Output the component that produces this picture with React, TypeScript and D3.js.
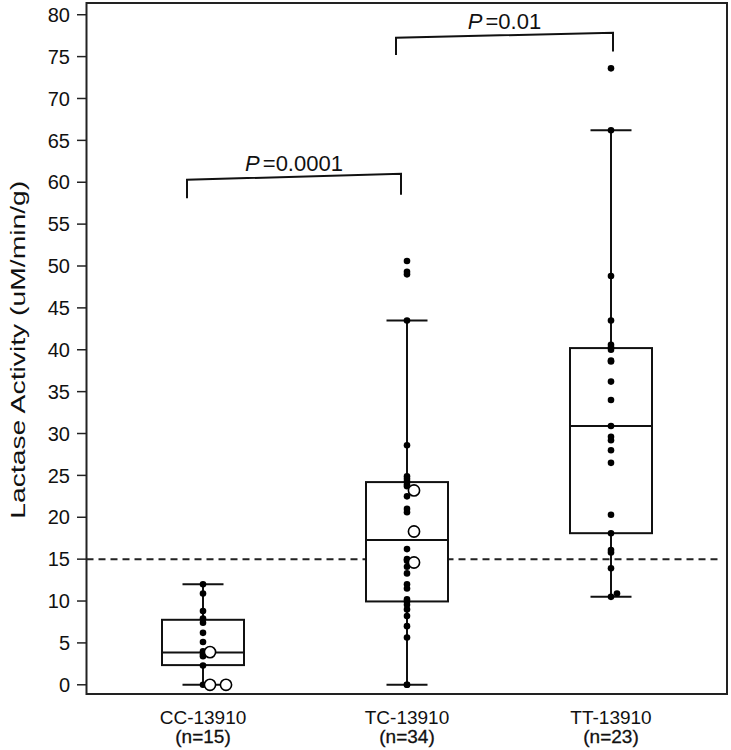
import React from "react";
import * as d3 from "d3";

// ---- data ----
const categories = ["CC-13910", "TC-13910", "TT-13910"];
const sampleSizes = ["(n=15)", "(n=34)", "(n=23)"];

// box statistics: [whiskerLow, q1, median, q3, whiskerHigh]
const boxStats = [
  [0, 2.35, 3.86, 7.76, 12.0],
  [0, 9.95, 17.3, 24.2, 43.5],
  [10.5, 18.1, 30.9, 40.2, 66.2],
];

// filled (individual) points per group
const ccFilled = [12.0, 10.9, 8.8, 7.9, 7.4, 6.2, 5.1, 4.0, 3.6, 3.4, 2.3, 0];
const tcFilled = [50.6, 49.3, 49.0, 43.5, 28.6, 24.9, 24.6, 24.3, 23.9, 23.7, 22.5, 21.0, 20.6, 16.2, 15.0, 14.8, 14.1, 13.3, 12.0, 11.5, 10.2, 9.95, 9.55, 9.0, 8.2, 7.0, 5.65, 0, 0];
const ttFilled = [73.6, 66.2, 48.8, 43.5, 40.6, 40.3, 40.0, 38.7, 38.6, 36.2, 34.0, 30.9, 29.6, 29.2, 28.0, 26.5, 20.3, 18.1, 16.1, 15.8, 13.9, 10.9, 10.5];
// horizontal jitter (px) of filled points, same order as above
const ccJitter = ccFilled.map(() => 0);
const tcJitter = tcFilled.map(() => 0);
const ttJitter = ttFilled.map((v) => (v === 10.9 ? 6 : 0));

// open circles per group
const ccOpen = [3.9, 0, 0];
const tcOpen = [23.2, 18.3, 14.6];
const ttOpen: number[] = [];

const filled = [ccFilled, tcFilled, ttFilled];
const jitters = [ccJitter, tcJitter, ttJitter];
const opens = [ccOpen, tcOpen, ttOpen];

const thresholdValue = 15;
const yTicks = d3.range(0, 81, 5);

// significance brackets
const brackets = [
  { from: 0, to: 1, label: "0.0001", yLeft: 60.3, yRight: 61.0, legLeft: 58.1, legRight: 58.5, dxL: -16, dxR: -6 },
  { from: 1, to: 2, label: "0.01", yLeft: 77.25, yRight: 77.85, legLeft: 75.2, legRight: 75.6, dxL: -11, dxR: 2 },
];

// ---- layout ----
const W = 731;
const H = 750;
const frame = { left: 86.5, right: 727, top: 3, bottom: 694 };
const FONT = "'Liberation Sans', Arial, Helvetica, sans-serif";

export default function App() {
  const y = d3.scaleLinear().domain([-1.1, 81.4]).range([frame.bottom, frame.top]);
  const x = d3.scalePoint<string>().domain(categories).range([203, 611]);
  const boxW = 82;
  const capW = 41;

  return (
    <svg
      width={W}
      height={H}
      style={{ position: "absolute", left: 0, top: 0, background: "#fff" }}
      fontFamily={FONT}
    >
      <rect x={0} y={0} width={W} height={H} fill="#fff" />
      {/* threshold dashed line */}
      <line
        x1={frame.left}
        x2={frame.right - 5}
        y1={y(thresholdValue)}
        y2={y(thresholdValue)}
        stroke="#222"
        strokeWidth={2}
        strokeDasharray="7,5"
      />

      {/* boxes */}
      {categories.map((c, i) => {
        const cx = x(c)!;
        const [lo, q1, med, q3, hi] = boxStats[i];
        return (
          <g key={c} stroke="#111" strokeWidth={2} fill="none">
            <line x1={cx} x2={cx} y1={y(hi)} y2={y(lo)} />
            <line x1={cx - capW / 2} x2={cx + capW / 2} y1={y(hi)} y2={y(hi)} />
            <line x1={cx - capW / 2} x2={cx + capW / 2} y1={y(lo)} y2={y(lo)} />
            <rect x={cx - boxW / 2} y={y(q3)} width={boxW} height={y(q1) - y(q3)} fill="#fff" />
            <line x1={cx - boxW / 2} x2={cx + boxW / 2} y1={y(med)} y2={y(med)} />
          </g>
        );
      })}

      {/* points */}
      {categories.map((c, i) => {
        const cx = x(c)!;
        const seen: Record<string, number> = {};
        return (
          <g key={"p" + c}>
            {filled[i].map((v, j) => (
              <circle key={"f" + j} cx={cx + jitters[i][j]} cy={y(v)} r={3.3} fill="#000" />
            ))}
            {opens[i].map((v, j) => {
              const k = String(v);
              const n = seen[k] || 0;
              seen[k] = n + 1;
              return (
                <circle
                  key={"o" + j}
                  cx={cx + 7 + 16 * n}
                  cy={y(v)}
                  r={5.6}
                  fill="#fff"
                  stroke="#000"
                  strokeWidth={1.6}
                />
              );
            })}
          </g>
        );
      })}

      {/* brackets */}
      {brackets.map((b, i) => {
        const x1 = x(categories[b.from])! + b.dxL;
        const x2 = x(categories[b.to])! + b.dxR;
        const path = `M${x1},${y(b.legLeft)}L${x1},${y(b.yLeft)}L${x2},${y(b.yRight)}L${x2},${y(b.legRight)}`;
        const tx = (x1 + x2) / 2;
        const ty = (y(b.yLeft) + y(b.yRight)) / 2 - 6;
        return (
          <g key={"b" + i}>
            <path d={path} fill="none" stroke="#111" strokeWidth={2} />
            <text x={tx} y={ty} textAnchor="middle" fontSize={22} fill="#111">
              <tspan fontStyle="italic">P</tspan>
              <tspan dx={3}>={b.label}</tspan>
            </text>
          </g>
        );
      })}

      {/* frame */}
      <rect
        x={frame.left}
        y={frame.top}
        width={frame.right - frame.left}
        height={frame.bottom - frame.top}
        fill="none"
        stroke="#222"
        strokeWidth={2}
      />

      {/* y axis ticks */}
      {yTicks.map((t) => (
        <g key={"t" + t}>
          <line x1={77} x2={frame.left} y1={y(t)} y2={y(t)} stroke="#222" strokeWidth={1.5} />
          <text x={70} y={y(t)} dy="0.36em" textAnchor="end" fontSize={20} fill="#111">
            {t}
          </text>
        </g>
      ))}

      {/* y axis title */}
      <text
        transform={`translate(25,${(y(0) + y(80)) / 2}) rotate(-90)`}
        textAnchor="middle"
        fontSize={20}
        fill="#111"
        textLength={338}
        lengthAdjust="spacingAndGlyphs"
      >
        Lactase Activity (uM/min/g)
      </text>

      {/* x category labels */}
      {categories.map((c, i) => (
        <g key={"x" + c}>
          <text x={x(c)!} y={724} textAnchor="middle" fontSize={19} fill="#111">
            {c}
          </text>
          <text x={x(c)!} y={743} textAnchor="middle" fontSize={19} fill="#111" stroke="#111" strokeWidth={0.3}>
            {sampleSizes[i]}
          </text>
        </g>
      ))}
    </svg>
  );
}
